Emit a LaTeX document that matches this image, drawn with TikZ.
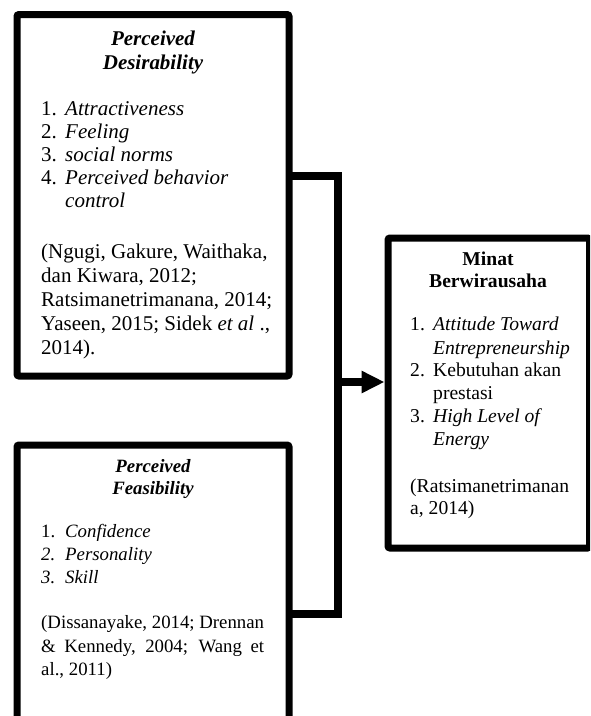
\documentclass[tikz,border=0pt]{standalone}
\usepackage{fontspec}
\setmainfont{Liberation Serif}
\usetikzlibrary{arrows.meta}
\newlength\dwid
\tikzset{
  box/.style={draw=black, line width=7pt, rounded corners=2pt, inner sep=0pt, fill=white},
  txt/.style={inner sep=0pt, anchor=mid west},
  ctr/.style={inner sep=0pt, anchor=mid},
  conn/.style={draw=black, line width=8pt, line join=miter},
  fontA/.style={font=\fontsize{21}{24}\selectfont},
  fontB/.style={font=\fontsize{18.8}{22}\selectfont},
  fontC/.style={font=\fontsize{19.6}{23}\selectfont},
}
\begin{document}
\begin{tikzpicture}[x=1pt,y=-1pt]
\useasboundingbox (0,0) rectangle (590,716);
\clip (0,0) rectangle (590,716);
% boxes
\node[box, minimum width=272pt, minimum height=361.5pt] (d) at (153,195.25) {};
\node[box, minimum width=272pt, minimum height=295pt] (f) at (153,592.5) {};
\node[box, minimum width=201.5pt, minimum height=310pt] (m) at (488.75,393) {};
% connectors
\coordinate (j1) at (337.5,176);
\coordinate (j2) at (337.5,614);
\coordinate (a0) at (337.5,382);
\draw[conn] ([xshift=-4pt]d.east |- j1) -- (j1) -- (j2) -- ([xshift=-4pt]f.east |- j2);
\draw[conn, -{Triangle[length=23pt,width=21pt]}] (a0) -- (m.west |- a0);
% box 1 text
\begin{scope}[every node/.append style={fontA}]
\node[ctr] (dh1) at (153,43) {\bfseries\itshape Perceived};
\node[ctr] (dh2) at (153,67) {\bfseries\itshape Desirability};
\node[txt] (dn1) at (41,113) {1.};
\node[txt] (dt1) at (65,113) {\itshape Attractiveness};
\node[txt] (dn2) at (41,136) {2.};
\node[txt] (dt2) at (65,136) {\itshape Feeling};
\node[txt] (dn3) at (41,159) {3.};
\node[txt] (dt3) at (65,159) {\itshape social norms};
\node[txt] (dn4) at (41,182) {4.};
\node[txt] (dt4) at (65,182) {\itshape Perceived behavior};
\node[txt] (dt5) at (65,205) {\itshape control};
\node[txt] (dc1) at (41,256) {(Ngugi, Gakure, Waithaka,};
\node[txt] (dc2) at (41,280) {dan Kiwara, 2012;};
\node[txt] (dc3) at (41,304) {Ratsimanetrimanana, 2014;};
\node[txt] (dc4) at (41,328) {Yaseen, 2015; Sidek \textit{et al} .,};
\node[txt] (dc5) at (41,352) {2014).};
\end{scope}
% box 2 text
\begin{scope}[every node/.append style={fontB}]
\node[ctr] (fh1) at (153,470) {\bfseries\itshape Perceived};
\node[ctr] (fh2) at (153,492) {\bfseries\itshape Feasibility};
\node[txt] (fn1) at (41,535) {1.};
\node[txt] (ft1) at (65,535) {\itshape Confidence};
\node[txt] (fn2) at (41,558) {\itshape 2.};
\node[txt] (ft2) at (65,558) {\itshape Personality};
\node[txt] (fn3) at (41,581) {\itshape 3.};
\node[txt] (ft3) at (65,581) {\itshape Skill};
\node[txt] (fc1) at (41,626) {(Dissanayake, 2014; Drennan};
\node[txt] (fc2) at (41,650) {\settowidth{\dwid}{(Dissanayake, 2014; Drennan}\makebox[\dwid][s]{\& Kennedy, 2004; Wang et}};
\node[txt] (fc3) at (41,673) {al., 2011)};
\end{scope}
% box 3 text
\begin{scope}[every node/.append style={fontC}]
\node[ctr] (mh1) at (488,263) {\bfseries Minat};
\node[ctr] (mh2) at (488,285) {\bfseries Berwirausaha};
\node[txt] (mn1) at (410,328) {1.};
\node[txt] (mt1) at (433,328) {\itshape Attitude Toward};
\node[txt] (mt1b) at (433,352) {\itshape Entrepreneurship};
\node[txt] (mn2) at (410,374) {2.};
\node[txt] (mt2) at (433,374) {Kebutuhan akan};
\node[txt] (mt2b) at (433,397) {prestasi};
\node[txt] (mn3) at (410,420) {3.};
\node[txt] (mt3) at (433,420) {\itshape High Level of};
\node[txt] (mt3b) at (433,443) {\itshape Energy};
\node[txt] (mc1) at (410,490) {(Ratsimanetrimanan};
\node[txt] (mc2) at (410,512) {a, 2014)};
\end{scope}
\end{tikzpicture}
\end{document}
